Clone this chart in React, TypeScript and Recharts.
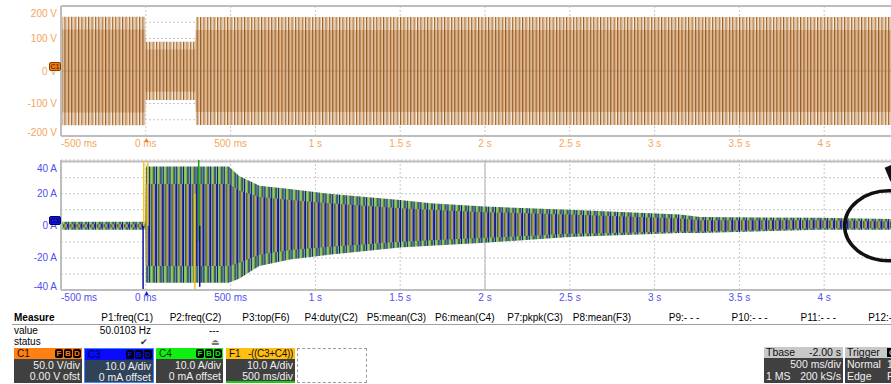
import React from "react";
import {
  ComposedChart, Area, Line, XAxis, YAxis, CartesianGrid, ReferenceLine, ReferenceDot,
} from "recharts";

const FONT = '"Liberation Sans", Arial, sans-serif';

// shared time axis (seconds)
const timeTicks = [-0.5, 0, 0.5, 1, 1.5, 2, 2.5, 3, 3.5, 4, 4.5];
const timeLabels = ["-500 ms", "0 ms", "500 ms", "1 s", "1.5 s", "2 s", "2.5 s", "3 s", "3.5 s", "4 s", "4.5 s"];

// C1 voltage trace, envelope (V)
const c1T = [-0.5, -0.004, 0.0, 0.292, 0.296, 4.5];
const c1Hi = [167, 167, 90, 90, 166, 166];
const c1Lo = [-167, -167, -89, -89, -166, -166];
const c1InHi = [128, 128, 66, 66, 126, 126];
const c1InLo = [-128, -128, -64, -64, -126, -126];

const voltTicks = [-200, -150, -100, -50, 0, 50, 100, 150, 200];
const voltLabelVals = [200, 100, 0, -100, -200];
const voltLabelText = ["200 V", "100 V", "0 V", "-100 V", "-200 V"];

// C3 / C4 / F1 current traces, envelope (A)
const iT = [-0.5, -0.002, 0.0, 0.49, 0.55, 0.67, 0.85, 1.08, 1.5, 1.68, 2.0, 2.5, 3.15, 3.27, 3.97, 4.5];
const iHi = [2.5, 2.5, 37, 37, 31, 25, 23, 20, 16, 14, 12, 10, 7, 5.5, 5, 4];
const iLo = [-2.5, -2.5, -35.5, -35.5, -33, -25, -21, -18, -13.5, -12.5, -10.5, -7, -4.5, -4.5, -2.5, -2.5];
const iInHi = [1, 1, 26, 26, 22, 18, 16, 14, 11, 10, 8.5, 7, 4.5, 3.5, 3.5, 2.5];
const iInLo = [-1, -1, -25, -25, -23, -18, -15, -13, -10, -9, -7.5, -5, -3.5, -3.5, -1.5, -1.5];

// switching spikes
const spikeT = [-0.016, -0.012, 0.012, 0.289, 0.312, 0.318];
const spikeLo = [-40, 0, 0, -40, -10, -38];
const spikeHi = [0, 40, 40, 20, 41, 0];
const spikeColor = ["#1010a0", "#f5c51c", "#f5c51c", "#f5c51c", "#1aa21a", "#101090"];

const ampTicks = [-40, -30, -20, -10, 0, 10, 20, 30, 40];
const ampLabelVals = [40, 20, 0, -20, -40];
const ampLabelText = ["40 A", "20 A", "0 A", "-20 A", "-40 A"];

// measure table
const measureHeads = ["P1:freq(C1)", "P2:freq(C2)", "P3:top(F6)", "P4:duty(C2)", "P5:mean(C3)", "P6:mean(C4)",
  "P7:pkpk(C3)", "P8:mean(F3)", "P9:- - -", "P10:- - -", "P11:- - -", "P12:- - -"];
const measureValues = ["50.0103 Hz", "---"];

const c1Data = c1T.map((t, i) => ({ t, outer: [c1Lo[i], c1Hi[i]], inner: [c1InLo[i], c1InHi[i]] }));
const iData = iT.map((t, i) => ({ t, outer: [iLo[i], iHi[i]], inner: [iInLo[i], iInHi[i]] }));

const TOP_TXT = "#f5a65b";
const BOT_TXT = "#5050ec";

function TimeTick(props: any) {
  const { x, y, payload, color } = props;
  const idx = timeTicks.indexOf(payload.value);
  if (idx < 0) return null;
  return (
    <text x={x} y={y + 7.5} textAnchor={idx === 0 ? "start" : "middle"} dominantBaseline="central"
      fontSize={10} fontFamily={FONT} fill={color}>{timeLabels[idx]}</text>
  );
}

function ValTick(props: any) {
  const { y, payload, color, vals, texts } = props;
  const idx = vals.indexOf(payload.value);
  if (idx < 0) return null;
  const shift = idx === 0 ? 7 : idx === vals.length - 1 ? -4 : 0;
  return (
    <text x={57} y={y + shift} textAnchor="end" dominantBaseline="central"
      fontSize={10} fontFamily={FONT} fill={color}>{texts[idx]}</text>
  );
}

function Circle(props: any) {
  const { cx, cy } = props;
  return (
    <g>
      <ellipse cx={cx} cy={cy} rx={44} ry={35} fill="none" stroke="#111" strokeWidth={3.5} />
      <polygon points={`${cx - 4},${cy - 58} ${cx + 10},${cy - 64} ${cx + 6},${cy - 38} ${cx + 1},${cy - 46}`} fill="#111" />
    </g>
  );
}

function Badge({ letters, color }: { letters: string[]; color: string }) {
  return (
    <div style={{ position: "absolute", right: 1, top: 1, display: "flex", gap: 1 }}>
      {letters.map((l) => (
        <div key={l} style={{ width: 8, height: 9, background: "#000", borderRadius: 2, color, fontSize: 8,
          fontWeight: "bold", lineHeight: "9px", textAlign: "center" }}>{l}</div>
      ))}
    </div>
  );
}

function ChanBox(p: { left: number; width: number; head: string; headRight?: string; headBg: string; headFg: string;
  l1: string; l2: string; bodyBg: string; border?: string; bottomLine?: string; badge?: boolean }) {
  return (
    <div style={{ position: "absolute", left: p.left, top: 348, width: p.width, height: 35,
      boxSizing: "border-box", border: p.border ? `1px solid ${p.border}` : "none", fontSize: 10.5 }}>
      <div style={{ position: "absolute", left: 0, top: 0, right: 0, height: 11, background: p.headBg, color: p.headFg, fontSize: 10 }}>
        <span style={{ position: "absolute", left: 3, top: 0, lineHeight: "11px" }}>{p.head}</span>
        {p.headRight && <span style={{ position: "absolute", right: 2, top: 0, lineHeight: "11px", letterSpacing: -0.3 }}>{p.headRight}</span>}
        {p.badge && <Badge letters={["F", "B", "D"]} color={p.headBg} />}
      </div>
      <div style={{ position: "absolute", left: 0, top: 11, right: 0, bottom: 0, background: p.bodyBg, color: "#f0f0f0",
        borderBottom: p.bottomLine ? `2px solid ${p.bottomLine}` : "none" }}>
        <div style={{ position: "absolute", right: 2, top: 0, lineHeight: "12px" }}>{p.l1}</div>
        <div style={{ position: "absolute", right: 2, top: 11, lineHeight: "12px" }}>{p.l2}</div>
      </div>
    </div>
  );
}

const gridStroke = "#c8c8c8";
const border = { stroke: "#bdbdbd", strokeWidth: 2 };

export default function App() {
  return (
    <div style={{ position: "absolute", left: 0, top: 0, width: 891, height: 384, overflow: "hidden",
      background: "#fff", fontFamily: FONT }}>
      {/* C1 voltage panel */}
      <div style={{ position: "absolute", left: 0, top: 0 }}>
        <ComposedChart width={920} height={152} data={c1Data} margin={{ top: 6, right: 11, bottom: 0, left: 0 }}>
          <defs>
            <pattern id="c1Out" patternUnits="userSpaceOnUse" width={3.39} height={8}>
              <rect x={0} y={0} width={3.39} height={8} fill="#f6ece2" />
              <rect x={0} y={0} width={1.1} height={8} fill="#a0601f" />
              <rect x={1.1} y={0} width={1.2} height={8} fill="#d8b690" />
            </pattern>
            <pattern id="c1In" patternUnits="userSpaceOnUse" width={3.39} height={8}>
              <rect x={0} y={0} width={3.39} height={8} fill="#d4aa80" />
              <rect x={0} y={0} width={1.1} height={8} fill="#9a5a1a" />
              <rect x={2.3} y={0} width={0.6} height={8} fill="#ead6c0" />
            </pattern>
          </defs>
          <CartesianGrid stroke={gridStroke} strokeDasharray="2 2" />
          <XAxis dataKey="t" type="number" domain={[-0.5, 4.5]} ticks={timeTicks} interval={0} height={16}
            tickSize={0} tickMargin={0} tickLine={false} axisLine={border}
            tick={(p: any) => <TimeTick {...p} color={TOP_TXT} />} />
          <YAxis type="number" domain={[-200, 200]} ticks={voltTicks} interval={0} width={61}
            tickSize={0} tickMargin={0} tickLine={false} axisLine={border}
            tick={(p: any) => <ValTick {...p} color={TOP_TXT} vals={voltLabelVals} texts={voltLabelText} />} />
          <ReferenceLine y={200} stroke="#bdbdbd" strokeWidth={2} />
          <Area dataKey="outer" type="linear" stroke="none" fill="url(#c1Out)" fillOpacity={1} isAnimationActive={false} />
          <Area dataKey="inner" type="linear" stroke="none" fill="url(#c1In)" fillOpacity={1} isAnimationActive={false} />
          <ReferenceLine y={0} stroke="#8a6a50" strokeOpacity={0.4} strokeWidth={1} />
        </ComposedChart>
      </div>

      {/* current panel */}
      <div style={{ position: "absolute", left: 0, top: 150 }}>
        <ComposedChart width={920} height={156} data={iData} margin={{ top: 10, right: 11, bottom: 0, left: 0 }}>
          <defs>
            <pattern id="iOut" patternUnits="userSpaceOnUse" width={6.78} height={8}>
              <rect x={0} y={0} width={6.78} height={8} fill="#e8eee0" />
              <rect x={0} y={0} width={1.1} height={8} fill="#14148c" />
              <rect x={1.4} y={0} width={1.1} height={8} fill="#33b833" />
              <rect x={2.5} y={0} width={1.0} height={8} fill="#f2c21a" />
              <rect x={3.5} y={0} width={1.2} height={8} fill="#0b5e2c" />
              <rect x={5.0} y={0} width={1.0} height={8} fill="#2a2aa0" />
              <rect x={6.0} y={0} width={0.78} height={8} fill="#5cc05c" />
            </pattern>
            <pattern id="iIn" patternUnits="userSpaceOnUse" width={6.78} height={8}>
              <rect x={0} y={0} width={1.1} height={8} fill="#14148c" />
              <rect x={1.1} y={0} width={1.0} height={8} fill="#a4a4d6" />
              <rect x={2.1} y={0} width={1.1} height={8} fill="#0b5e2c" />
              <rect x={3.2} y={0} width={1.0} height={8} fill="#9a7a3e" />
              <rect x={4.2} y={0} width={0.9} height={8} fill="#f0c020" />
              <rect x={5.1} y={0} width={0.8} height={8} fill="#a4a4d6" />
              <rect x={5.9} y={0} width={0.88} height={8} fill="#1a1a90" />
            </pattern>
          </defs>
          <CartesianGrid stroke={gridStroke} strokeDasharray="2 2" />
          <XAxis dataKey="t" type="number" domain={[-0.5, 4.5]} ticks={timeTicks} interval={0} height={16}
            tickSize={0} tickMargin={0} tickLine={false} axisLine={border}
            tick={(p: any) => <TimeTick {...p} color={BOT_TXT} />} />
          <YAxis type="number" domain={[-40, 40]} ticks={ampTicks} interval={0} width={61}
            tickSize={0} tickMargin={0} tickLine={false} axisLine={border}
            tick={(p: any) => <ValTick {...p} color={BOT_TXT} vals={ampLabelVals} texts={ampLabelText} />} />
          <CartesianGrid stroke={gridStroke} strokeWidth={1.5} verticalValues={[2]} horizontalValues={[0]} />
          <ReferenceLine y={40} stroke="#bdbdbd" strokeWidth={2} />
          <Area dataKey="outer" type="linear" stroke="none" fill="url(#iOut)" fillOpacity={1} isAnimationActive={false} />
          <Area dataKey="inner" type="linear" stroke="none" fill="url(#iIn)" fillOpacity={1} isAnimationActive={false} />
          {spikeT.map((t, i) => (
            <Line key={i} data={[{ t, v: spikeLo[i] }, { t, v: spikeHi[i] }]} dataKey="v" type="linear"
              stroke={spikeColor[i]} strokeWidth={1.5} dot={false} isAnimationActive={false} />
          ))}
          <ReferenceDot x={4.38} y={0} r={40} shape={(p: any) => <Circle {...p} />} />
        </ComposedChart>
      </div>

      {/* channel markers */}
      <div style={{ position: "absolute", left: 49, top: 62, width: 12, height: 9, background: "#f07a10",
        border: "1px solid #8a4000", borderRadius: 2, boxSizing: "border-box", fontSize: 7, lineHeight: "8px",
        color: "#3a1a00", textAlign: "center" }}>C1</div>
      <div style={{ position: "absolute", left: 49, top: 216, width: 12, height: 9, background: "#1515e0",
        border: "1px solid #000060", borderRadius: 2, boxSizing: "border-box", fontSize: 7, lineHeight: "8px",
        color: "#00003a", textAlign: "center" }}>C3</div>
      <div style={{ position: "absolute", left: 143, top: 136, fontSize: 7, color: "#f07a10", lineHeight: "7px" }}>▲</div>
      <div style={{ position: "absolute", left: 143, top: 289, fontSize: 7, color: "#1515e0", lineHeight: "7px" }}>▲</div>

      {/* measure table */}
      <div style={{ position: "absolute", left: 12, top: 324, width: 879, height: 1, background: "#a0a0a0" }} />
      <div style={{ position: "absolute", left: 14, top: 312, fontSize: 10, fontWeight: "bold", lineHeight: "12px" }}>Measure</div>
      {measureHeads.map((h, i) => (
        <div key={h} style={{ position: "absolute", right: 891 - (153 + i * 68.3), top: 312, fontSize: 10,
          lineHeight: "12px", whiteSpace: "nowrap" }}>{h}</div>
      ))}
      <div style={{ position: "absolute", left: 14, top: 325, fontSize: 10, lineHeight: "12px" }}>value</div>
      <div style={{ position: "absolute", left: 14, top: 336, fontSize: 10, lineHeight: "12px" }}>status</div>
      {measureValues.map((v, i) => (
        <div key={i} style={{ position: "absolute", right: 891 - (151 + i * 68), top: 325, fontSize: 10,
          lineHeight: "12px" }}>{v}</div>
      ))}
      <div style={{ position: "absolute", left: 140, top: 337, fontSize: 9, lineHeight: "10px", color: "#333" }}>✔</div>
      <div style={{ position: "absolute", left: 211, top: 337, fontSize: 9, lineHeight: "10px", color: "#777" }}>⏏</div>

      {/* channel boxes */}
      <ChanBox left={14} width={68} head="C1" headBg="#ff7f10" headFg="#111" badge l1="50.0 V/div" l2="0.00 V ofst" bodyBg="#404040" />
      <ChanBox left={84} width={70} head="C3" headBg="#0a0aff" headFg="#000050" badge l1="10.0 A/div" l2="0 mA offset" bodyBg="#2f4257" border="#3d8cff" />
      <ChanBox left={156} width={67} head="C4" headBg="#10f010" headFg="#003000" badge l1="10.0 A/div" l2="0 mA offset" bodyBg="#404040" />
      <ChanBox left={226} width={69} head="F1" headRight="-((C3+C4))" headBg="#ffbe10" headFg="#111" l1="10.0 A/div" l2="500 ms/div" bodyBg="#404040" bottomLine="#10d010" />
      <div style={{ position: "absolute", left: 297, top: 348, width: 70, height: 35, border: "1px dashed #999", boxSizing: "border-box" }} />

      {/* timebase / trigger */}
      <div style={{ position: "absolute", left: 764, top: 347, width: 79, height: 36, fontSize: 10.5 }}>
        <div style={{ position: "absolute", left: 0, top: 0, right: 0, height: 11, background: "#c8c8c8", color: "#111", lineHeight: "11px" }}>
          <span style={{ position: "absolute", left: 2 }}>Tbase</span>
          <span style={{ position: "absolute", right: 2 }}>-2.00 s</span>
        </div>
        <div style={{ position: "absolute", left: 0, top: 11, right: 0, bottom: 0, background: "#404040", color: "#f0f0f0", lineHeight: "12px" }}>
          <span style={{ position: "absolute", right: 2, top: 0 }}>500 ms/div</span>
          <span style={{ position: "absolute", left: 2, top: 12 }}>1 MS</span>
          <span style={{ position: "absolute", right: 2, top: 12 }}>200 kS/s</span>
        </div>
      </div>
      <div style={{ position: "absolute", left: 845, top: 347, width: 60, height: 36, fontSize: 10.5 }}>
        <div style={{ position: "absolute", left: 0, top: 0, right: 0, height: 11, background: "#c8c8c8", color: "#111", lineHeight: "11px" }}>
          <span style={{ position: "absolute", left: 2 }}>Trigger</span>
          <span style={{ position: "absolute", left: 42, top: 1, width: 10, height: 9, background: "#000", color: "#fff",
            fontSize: 8, lineHeight: "9px", textAlign: "center" }}>C</span>
        </div>
        <div style={{ position: "absolute", left: 0, top: 11, right: 0, bottom: 0, background: "#404040", color: "#f0f0f0", lineHeight: "12px" }}>
          <span style={{ position: "absolute", left: 2, top: 0 }}>Normal</span>
          <span style={{ position: "absolute", left: 42, top: 0 }}>1</span>
          <span style={{ position: "absolute", left: 2, top: 12 }}>Edge</span>
          <span style={{ position: "absolute", left: 42, top: 12 }}>Po</span>
        </div>
      </div>
    </div>
  );
}
